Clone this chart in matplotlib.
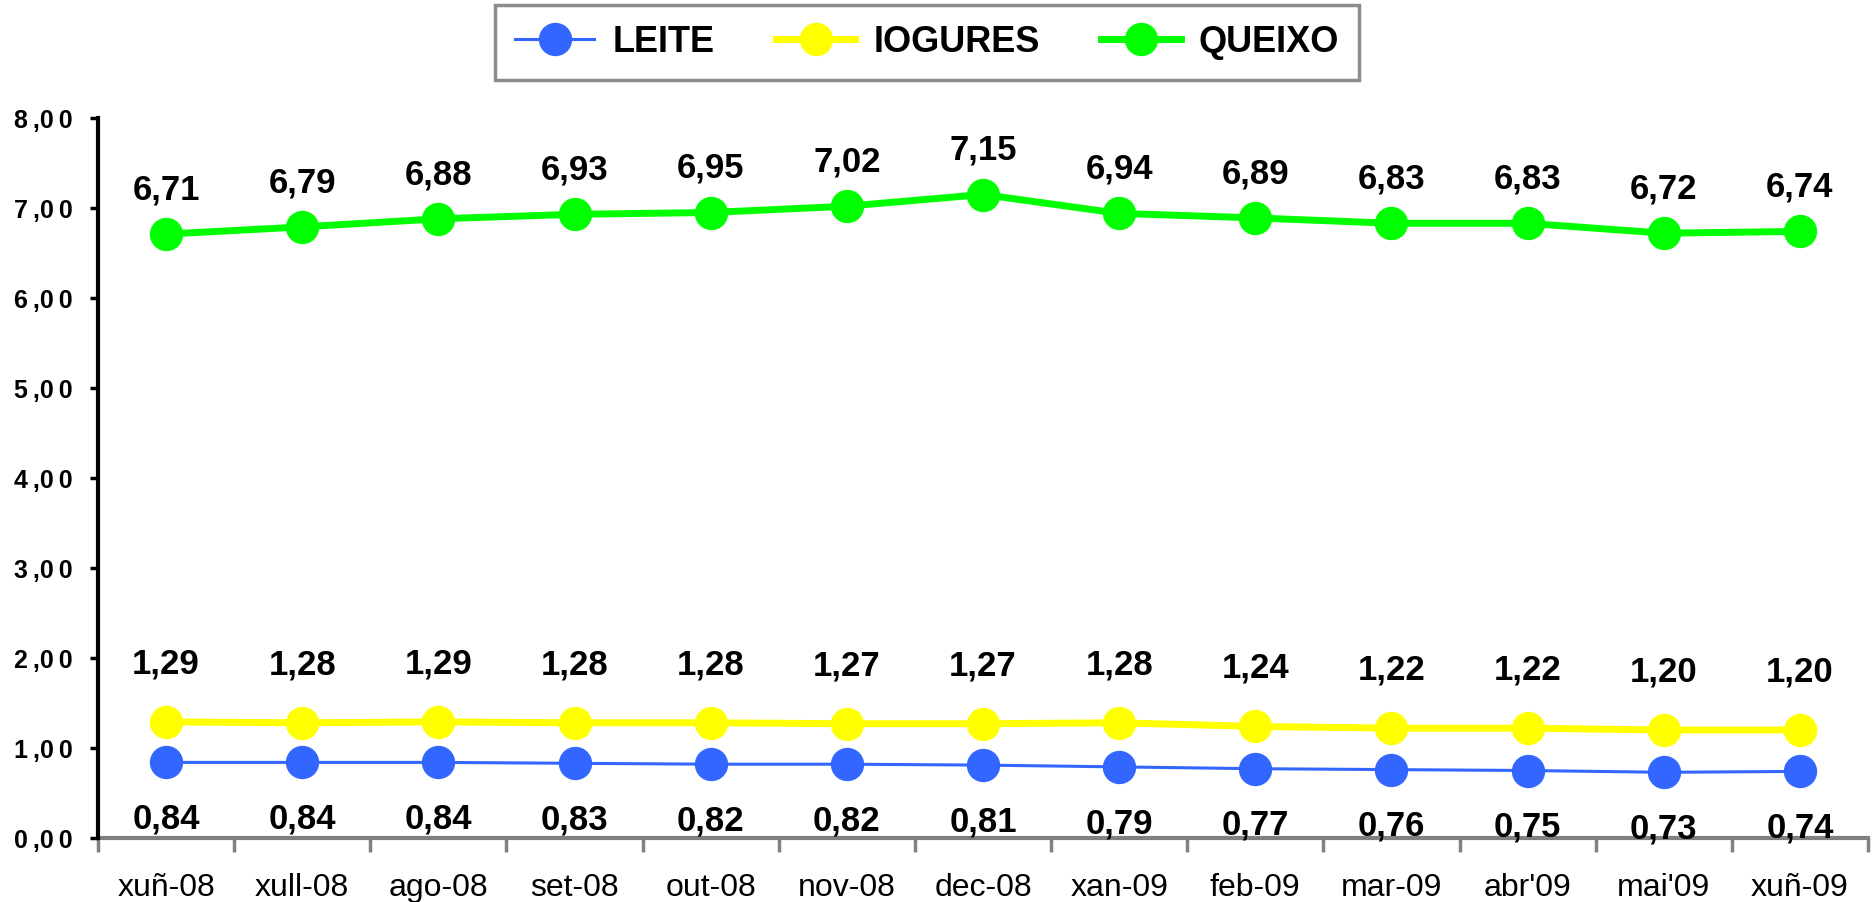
import matplotlib.pyplot as plt

months = ["xuñ-08", "xull-08", "ago-08", "set-08", "out-08", "nov-08", "dec-08",
          "xan-09", "feb-09", "mar-09", "abr'09", "mai'09", "xuñ-09"]
leite = [0.84, 0.84, 0.84, 0.83, 0.82, 0.82, 0.81, 0.79, 0.77, 0.76, 0.75, 0.73, 0.74]
iogures = [1.29, 1.28, 1.29, 1.28, 1.28, 1.27, 1.27, 1.28, 1.24, 1.22, 1.22, 1.20, 1.20]
queixo = [6.71, 6.79, 6.88, 6.93, 6.95, 7.02, 7.15, 6.94, 6.89, 6.83, 6.83, 6.72, 6.74]
yticks = [0, 1, 2, 3, 4, 5, 6, 7, 8]

plt.rcParams['font.family'] = ['Liberation Sans', 'DejaVu Sans']

fig = plt.figure(figsize=(18.72, 9.02), dpi=100)
ax = fig.add_axes([98 / 1872, 1 - 838 / 902, (1868 - 98) / 1872, (838 - 118) / 902])

x = list(range(len(months)))
ax.plot(x, leite, color='#3366FF', lw=2.2, marker='o', ms=23, label='LEITE')
ax.plot(x, iogures, color='#FFFF00', lw=5, marker='o', ms=23, label='IOGURES')
ax.plot(x, queixo, color='#00FF00', lw=5, marker='o', ms=23, label='QUEIXO')


def fmt(v):
    return f"{v:.2f}".replace('.', ',')


lbl = dict(ha='center', fontsize=25, fontweight='bold', textcoords='offset points')
for i in x:
    ax.annotate(fmt(queixo[i]), (i, queixo[i]), xytext=(0, 20), va='bottom', **lbl)
    ax.annotate(fmt(iogures[i]), (i, iogures[i]), xytext=(0, 30), va='bottom', **lbl)
    ax.annotate(fmt(leite[i]), (i, leite[i]), xytext=(0, -29), va='top', **lbl)

ax.set_xlim(-0.5, len(months) - 0.5)
ax.set_ylim(0, 8)
ax.set_yticks(yticks)
# spaced-out tick labels like "8 ,0 0"
ax.set_yticklabels([fmt(t).replace(',', '\u2009,').replace('00', '0\u20090')
                    for t in yticks], fontsize=18, fontweight='bold')
ax.set_xticks(x)
ax.set_xticklabels(months, fontsize=23)
ax.set_xticks([i - 0.5 for i in range(len(months) + 1)], minor=True)
ax.tick_params(axis='x', which='major', length=0, pad=25)
ax.tick_params(axis='x', which='minor', length=10, width=2.5, color='#808080', direction='out')
ax.tick_params(axis='y', length=6, width=2.5, direction='out', pad=12)

for s in ['top', 'right']:
    ax.spines[s].set_visible(False)
ax.spines['left'].set_linewidth(3)
ax.spines['left'].set_color('black')
ax.spines['bottom'].set_linewidth(3)
ax.spines['bottom'].set_color('#808080')
ax.spines['left'].set_zorder(3)

leg = fig.legend(loc='upper center', bbox_to_anchor=(927 / 1872, 1 - 5 / 902), ncol=3,
                 frameon=True, fancybox=False, edgecolor='#707070', handlelength=2.2,
                 columnspacing=1.7, borderpad=0.55, handletextpad=0.5, markerscale=1.0,
                 borderaxespad=0, prop={'weight': 'bold', 'size': 26})
leg.get_frame().set_linewidth(2.5)

fig.savefig('out.png', dpi=100)
